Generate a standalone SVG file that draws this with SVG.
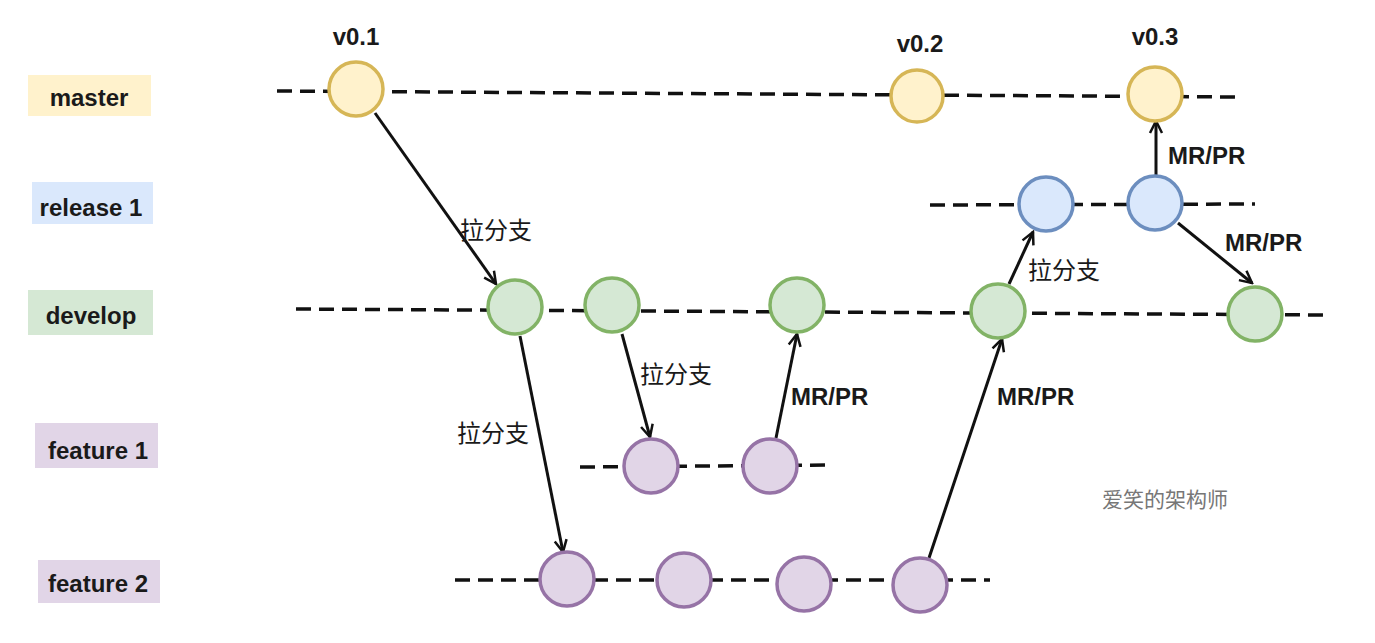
<svg xmlns="http://www.w3.org/2000/svg" width="1375" height="643" viewBox="0 0 1375 643">
<style>
.lbl{font-family:"Liberation Sans",Arial,sans-serif;font-weight:bold;font-size:24px;fill:#1a1a1a;text-anchor:middle;dominant-baseline:central}
.cn{font-family:"Liberation Sans","Noto Sans CJK SC",sans-serif;font-size:24px;fill:#1a1a1a;dominant-baseline:central}
.mr{font-family:"Liberation Sans",Arial,sans-serif;font-weight:bold;font-size:24px;fill:#1a1a1a;dominant-baseline:central}
.wm{font-family:"Noto Sans CJK SC",sans-serif;font-size:21px;fill:#777;dominant-baseline:central}
.lane{stroke:#111;stroke-width:3.5;stroke-dasharray:15 8;fill:none}
.arr{stroke:#111;stroke-width:3;fill:none;marker-end:url(#ah)}
.m{fill:#fff2cc;stroke:#d6b656;stroke-width:3.5}
.r{fill:#dae8fc;stroke:#6c8ebf;stroke-width:3.5}
.d{fill:#d5e8d4;stroke:#82b366;stroke-width:3.5}
.f{fill:#e1d5e7;stroke:#9673a6;stroke-width:3.5}
</style>
<defs>
<marker id="ah" viewBox="0 0 16 16" refX="14" refY="8" markerWidth="16" markerHeight="16" markerUnits="userSpaceOnUse" orient="auto">
<path d="M2,2 L14,8 L2,14" fill="none" stroke="#111" stroke-width="2.5"/>
</marker>
</defs>
<rect width="1375" height="643" fill="#fff"/>
<g id="lanes">
<g id="lane-master"><rect x="28" y="75" width="123" height="41" fill="#fff2cc"/><text class="lbl" x="89" y="97">master</text></g>
<g id="lane-release"><rect x="32" y="182" width="121" height="42" fill="#dae8fc"/><text class="lbl" x="91" y="207">release 1</text></g>
<g id="lane-develop"><rect x="28" y="290" width="125" height="45" fill="#d5e8d4"/><text class="lbl" x="91" y="315">develop</text></g>
<g id="lane-feature1"><rect x="35" y="423" width="123" height="45" fill="#e1d5e7"/><text class="lbl" x="98" y="450">feature 1</text></g>
<g id="lane-feature2"><rect x="38" y="560" width="122" height="43" fill="#e1d5e7"/><text class="lbl" x="98" y="583">feature 2</text></g>
</g>
<g id="connectors">
<path class="lane" d="M277,91 L1240,97"/>
<path class="lane" d="M930,205 L1255,204"/>
<path class="lane" d="M296,309 L1328,315"/>
<path class="lane" d="M580,467 L830,465"/>
<path class="lane" d="M455,580 L990,580"/>
<path class="arr" d="M375,113 L496,284"/>
<path class="arr" d="M520,336 L563,552"/>
<path class="arr" d="M622,334 L650,437"/>
<path class="arr" d="M776,438 L797,334"/>
<path class="arr" d="M929,558 L1002,339"/>
<path class="arr" d="M1009,284 L1033,232"/>
<path class="arr" d="M1156,176 L1156,121"/>
<path class="arr" d="M1178,223 L1252,283"/>
<text class="cn" x="460" y="230">拉分支</text>
<text class="cn" x="457" y="433">拉分支</text>
<text class="cn" x="640" y="374">拉分支</text>
<text class="mr" x="791" y="396">MR/PR</text>
<text class="mr" x="997" y="396">MR/PR</text>
<text class="cn" x="1028" y="270">拉分支</text>
<text class="mr" x="1168" y="155">MR/PR</text>
<text class="mr" x="1225" y="242">MR/PR</text>
</g>
<g id="tags">
<text class="lbl" x="356" y="36">v0.1</text>
<text class="lbl" x="920" y="43">v0.2</text>
<text class="lbl" x="1155" y="36">v0.3</text>
</g>
<g id="n-m1"><circle class="m" cx="356" cy="89" r="27"/></g>
<g id="n-m2"><circle class="m" cx="917" cy="96" r="26"/></g>
<g id="n-m3"><circle class="m" cx="1155" cy="94" r="27"/></g>
<g id="n-r1"><circle class="r" cx="1046" cy="204" r="27"/></g>
<g id="n-r2"><circle class="r" cx="1155" cy="203" r="27"/></g>
<g id="n-d1"><circle class="d" cx="515" cy="307" r="27"/></g>
<g id="n-d2"><circle class="d" cx="612" cy="305" r="27"/></g>
<g id="n-d3"><circle class="d" cx="797" cy="305" r="27"/></g>
<g id="n-d4"><circle class="d" cx="998" cy="311" r="27"/></g>
<g id="n-d5"><circle class="d" cx="1255" cy="314" r="27"/></g>
<g id="n-f1a"><circle class="f" cx="651" cy="466" r="27"/></g>
<g id="n-f1b"><circle class="f" cx="770" cy="466" r="27"/></g>
<g id="n-f2a"><circle class="f" cx="567" cy="579" r="27"/></g>
<g id="n-f2b"><circle class="f" cx="684" cy="580" r="27"/></g>
<g id="n-f2c"><circle class="f" cx="804" cy="584" r="27"/></g>
<g id="n-f2d"><circle class="f" cx="920" cy="585" r="27"/></g>
<text class="wm" x="1102" y="498">爱笑的架构师</text>
</svg>
